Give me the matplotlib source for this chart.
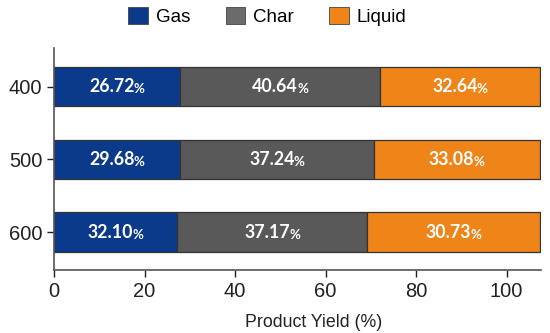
import matplotlib
matplotlib.use("Agg")
import matplotlib.pyplot as plt
from matplotlib.patches import Patch

temps = ["400", "500", "600"]
series = ["Gas", "Char", "Liquid"]
# bar lengths as drawn in the reference
gas_len = [27.8, 27.8, 27.2]
char_len = [44.3, 42.8, 42.0]
liquid_len = [35.2, 36.7, 38.1]
# values printed on the bars
gas_lbl = ["26.72", "29.68", "32.10"]
char_lbl = ["40.64", "37.24", "37.17"]
liquid_lbl = ["32.64", "33.08", "30.73"]
xticks = [0, 20, 40, 60, 80, 100]

colors = ["#0C3A8A", "#595959", "#EF8419"]
legend_colors = ["#0C3A8A", "#6B6B6B", "#EF8419"]

plt.rcParams['font.family'] = ['Liberation Sans', 'DejaVu Sans']

fig = plt.figure(figsize=(5.5, 3.33), dpi=100)
ax = fig.add_axes([54/550, 1-270/333, (541-54)/550, (270-48)/333])

ypos = list(range(len(temps)))
lens = [gas_len, char_len, liquid_len]
lbls = [gas_lbl, char_lbl, liquid_lbl]
left = [0.0]*len(temps)
texts = []
for s, (L, lab, c) in enumerate(zip(lens, lbls, colors)):
    ax.barh(ypos, L, left=left, height=0.54, color=c, edgecolor="#333333", linewidth=0.9, zorder=2)
    for i in ypos:
        cx = left[i] + L[i]/2
        texts.append((cx, i, lab[i]))
    left = [a + b for a, b in zip(left, L)]

ax.set_xlim(0, 107.6)
ax.set_ylim(2.52, -0.53)
ax.set_yticks(ypos)
ax.set_yticklabels(temps)
ax.set_xticks(xticks)
ax.tick_params(axis='both', labelsize=14.5, colors="#222222", width=1.0, length=5, direction='out')
for sp in ['top', 'right']:
    ax.spines[sp].set_visible(False)
for sp in ['left', 'bottom']:
    ax.spines[sp].set_color("#555555")
    ax.spines[sp].set_linewidth(1.2)
ax.set_xlabel("Product Yield (%)", fontsize=12.8, color="#222222")
ax.xaxis.set_label_coords(0.533, -0.2)

# bar labels: number + smaller percent sign, centred as a group
fig.canvas.draw()
r = fig.canvas.get_renderer()
for cx, yi, s in texts:
    t1 = ax.text(cx, yi, s, ha='left', va='center', fontsize=12.8, fontweight='bold',
                 color='white', family=['Lato', 'DejaVu Sans'], zorder=3)
    t2 = ax.text(cx, yi, "%", ha='left', va='center', fontsize=9.5, fontweight='bold',
                 color='white', family=['Lato', 'DejaVu Sans'], zorder=3)
    b1 = t1.get_window_extent(r)
    b2 = t2.get_window_extent(r)
    total = b1.width + b2.width - 1
    x0disp = ax.transData.transform((cx, yi))[0] - total/2
    inv = ax.transData.inverted()
    x0 = inv.transform((x0disp, 0))[0]
    x1 = inv.transform((x0disp + b1.width - 1, 0))[0]
    t1.set_x(x0)
    t2.set_x(x1)
    t2.set_y(yi + 0.035)

handles = [Patch(facecolor=c, edgecolor="#444444", linewidth=0.6) for c in legend_colors]
fig.legend(handles, series, loc='center', bbox_to_anchor=(0.486, 0.95), ncol=3, frameon=False,
           fontsize=13.5, handlelength=1.05, handleheight=1.05, columnspacing=1.9, handletextpad=0.4)

fig.savefig("out.png", dpi=100)
